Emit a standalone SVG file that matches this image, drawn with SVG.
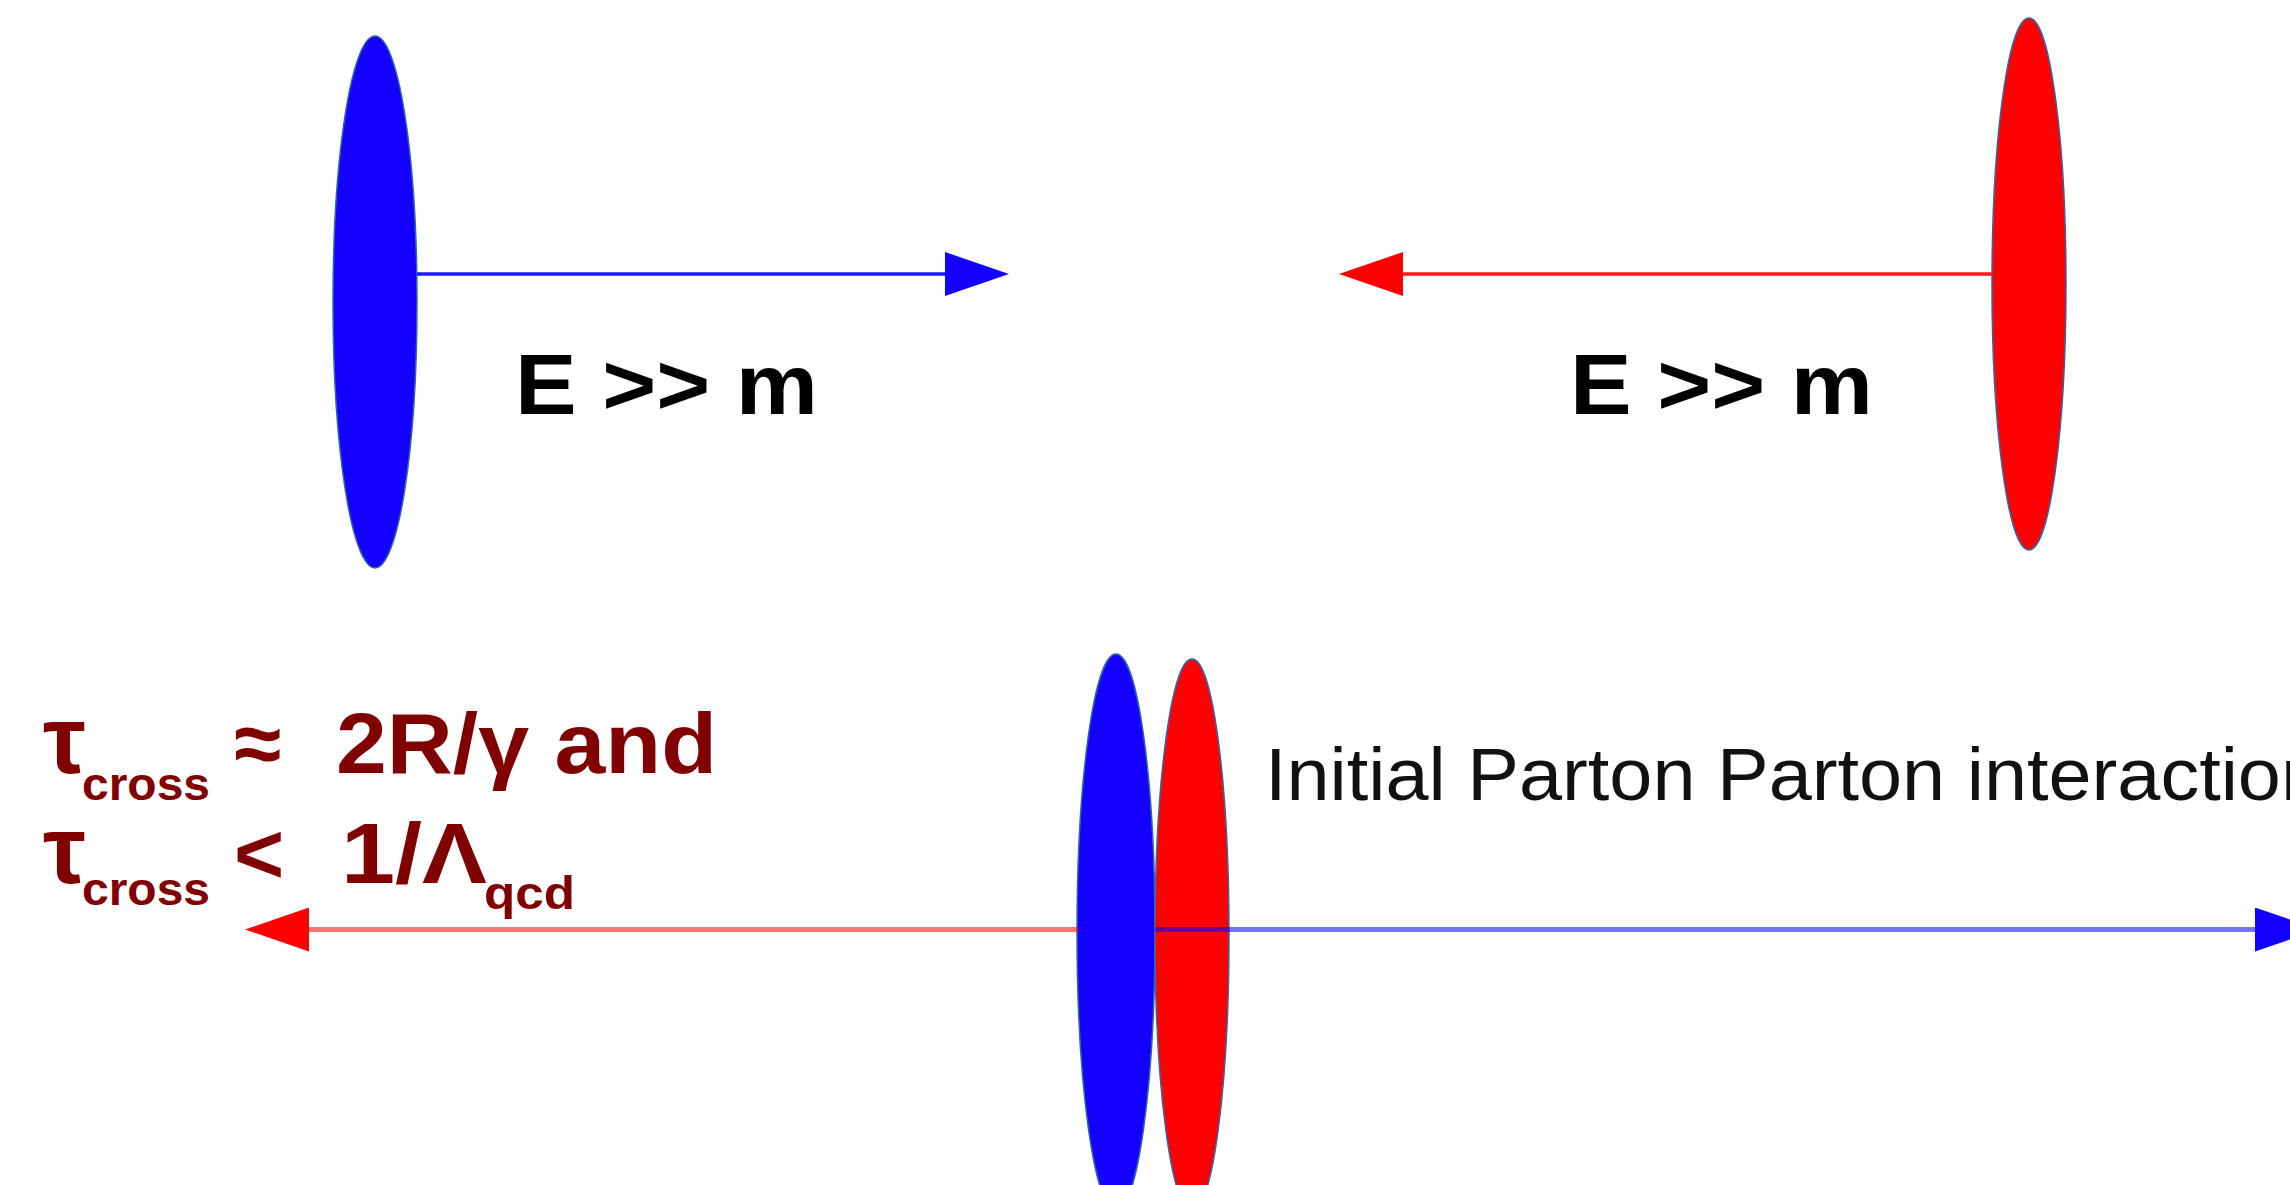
<svg xmlns="http://www.w3.org/2000/svg" width="2290" height="1185" viewBox="0 0 2290 1185">
<style>
.ell{stroke:#3465a4;stroke-width:1.5}
.blue{fill:#1400ff}
.red{fill:#ff0000}
.lb{font-family:"Liberation Sans",Arial,sans-serif;font-weight:bold;fill:#000}
.lr{font-family:"Liberation Sans",Arial,sans-serif;fill:#111}
.tau{font-family:"Liberation Sans",Arial,sans-serif;font-weight:bold;fill:#800000}
.ln{fill:none;stroke-width:3.5}
.lnt{fill:none;stroke-width:5;stroke-opacity:0.55}
</style>
<defs>
<marker id="hb" viewBox="0 0 64 44" refX="0" refY="22" markerWidth="64" markerHeight="44" markerUnits="userSpaceOnUse" orient="auto"><path d="M0 0 L64 22 L0 44 Z" fill="#1400ff"/></marker>
<marker id="hr" viewBox="0 0 64 44" refX="0" refY="22" markerWidth="64" markerHeight="44" markerUnits="userSpaceOnUse" orient="auto"><path d="M0 0 L64 22 L0 44 Z" fill="#ff0000"/></marker>
</defs>
<rect width="2290" height="1185" fill="#fff"/>
<g id="proton-left">
<ellipse class="ell blue" cx="375" cy="302" rx="42" ry="266"/>
</g>
<g id="proton-right">
<ellipse class="ell red" cx="2029" cy="284" rx="37" ry="266"/>
</g>
<g id="collision-blue">
<ellipse class="ell blue" cx="1116" cy="932" rx="39" ry="278"/>
</g>
<g id="collision-red">
<ellipse class="ell red" cx="1192" cy="935" rx="37" ry="276"/>
</g>
<g id="connectors">
<line class="ln" x1="417" y1="274" x2="945" y2="274" stroke="#1a1aff" marker-end="url(#hb)"/>
<line class="ln" x1="1992" y1="274" x2="1403" y2="274" stroke="#ff1a1a" marker-end="url(#hr)"/>
<line class="lnt" x1="1078" y1="929.5" x2="309" y2="929.5" stroke="#ff0000" marker-end="url(#hr)"/>
<line class="lnt" x1="1155" y1="929.5" x2="2255" y2="929.5" stroke="#0000ff" marker-end="url(#hb)"/>
</g>
<g id="label-left">
<text class="lb" x="515" y="414" font-size="86" textLength="303" lengthAdjust="spacingAndGlyphs">E &gt;&gt; m</text>
</g>
<g id="label-right">
<text class="lb" x="1570" y="414" font-size="86" textLength="303" lengthAdjust="spacingAndGlyphs">E &gt;&gt; m</text>
</g>
<g id="label-interaction">
<text class="lr" x="1265" y="800" font-size="74" textLength="1059" lengthAdjust="spacingAndGlyphs">Initial Parton Parton interaction</text>
</g>
<g id="label-tau">
<text class="tau" font-size="86">
<tspan x="43" y="773" font-size="96">τ</tspan><tspan x="82" y="800" font-size="46" textLength="128" lengthAdjust="spacingAndGlyphs">cross</tspan><tspan x="234" y="773">≈</tspan><tspan x="336" y="773" textLength="381" lengthAdjust="spacingAndGlyphs">2R/γ and</tspan>
</text>
<text class="tau" font-size="86">
<tspan x="43" y="883" font-size="96">τ</tspan><tspan x="82" y="905" font-size="46" textLength="128" lengthAdjust="spacingAndGlyphs">cross</tspan><tspan x="234" y="883">&lt;</tspan><tspan x="341" y="883" textLength="146" lengthAdjust="spacingAndGlyphs">1/Λ</tspan><tspan x="484" y="909" font-size="46" textLength="91" lengthAdjust="spacingAndGlyphs">qcd</tspan>
</text>
</g>
</svg>
